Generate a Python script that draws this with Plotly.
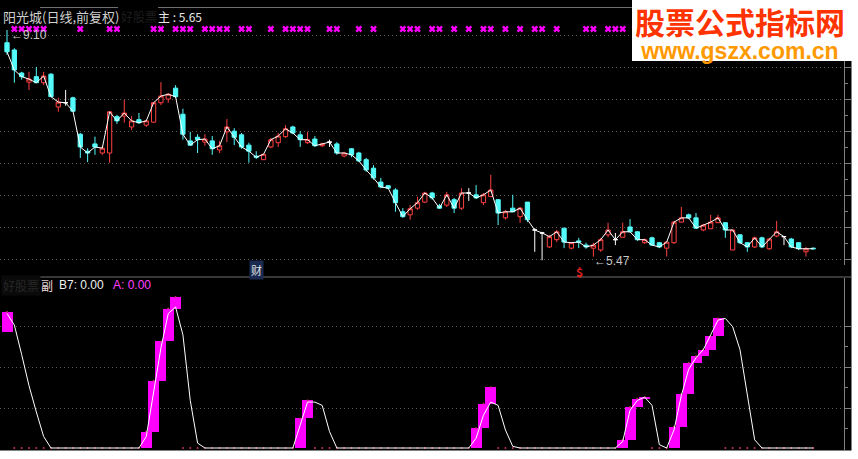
import plotly.graph_objects as go

W, H = 858, 459

# ---------------- data ----------------
opens = [
    8.89, 8.77, 8.39, 8.24, 8.33, 8.23, 8.37, 7.83, 7.90, 7.98,
    7.38, 7.10, 7.22, 7.07, 7.07, 7.67, 7.68, 7.50, 7.62, 7.53,
    7.58, 7.90, 7.96, 8.14, 7.71, 7.27, 7.33, 7.25, 7.27, 7.12,
    7.42, 7.43, 7.37, 7.20, 7.02, 6.96, 7.17, 7.24, 7.34, 7.50,
    7.37, 7.24, 7.30, 7.19, 7.25, 7.22, 7.02, 7.14, 7.07, 6.96,
    6.82, 6.59, 6.53, 6.46, 6.10, 6.05, 6.16, 6.26, 6.41, 6.20,
    6.21, 6.30, 6.16, 6.41, 6.38, 6.25, 6.35, 6.30, 6.00, 6.16,
    6.02, 6.26, 5.80, 5.75, 5.52, 5.64, 5.83, 5.50, 5.62, 5.55,
    5.50, 5.47, 5.72, 5.64, 5.68, 5.85, 5.77, 5.59, 5.67, 5.59,
    5.50, 5.59, 5.93, 6.05, 6.00, 5.80, 5.82, 5.92, 5.92, 5.47,
    5.72, 5.59, 5.52, 5.67, 5.49, 5.70, 5.69, 5.65, 5.59, 5.44, 5.50,
]
closes = [
    8.74, 8.44, 8.33, 8.29, 8.23, 8.34, 8.00, 7.91, 7.90, 7.76,
    7.17, 7.07, 7.17, 7.15, 7.75, 7.60, 7.73, 7.60, 7.57, 7.60,
    7.90, 8.01, 8.04, 8.00, 7.38, 7.20, 7.29, 7.30, 7.14, 7.19,
    7.50, 7.33, 7.17, 7.10, 7.00, 7.05, 7.29, 7.35, 7.47, 7.40,
    7.29, 7.29, 7.19, 7.22, 7.25, 7.07, 7.07, 7.04, 6.94, 6.79,
    6.66, 6.51, 6.49, 6.25, 6.02, 6.15, 6.25, 6.41, 6.33, 6.16,
    6.38, 6.16, 6.41, 6.41, 6.33, 6.38, 6.46, 6.08, 6.10, 6.10,
    6.16, 5.97, 5.80, 5.75, 5.69, 5.77, 5.60, 5.59, 5.60, 5.52,
    5.55, 5.64, 5.80, 5.64, 5.77, 5.77, 5.64, 5.64, 5.55, 5.52,
    5.60, 5.93, 6.00, 6.00, 5.83, 5.88, 5.93, 6.00, 5.80, 5.80,
    5.59, 5.52, 5.67, 5.52, 5.65, 5.77, 5.69, 5.52, 5.49, 5.49, 5.49,
]
highs = [
    9.10, 8.80, 8.41, 8.41, 8.49, 8.41, 8.39, 7.98, 8.11, 8.00,
    7.40, 7.15, 7.34, 7.19, 7.76, 7.70, 7.95, 7.68, 7.73, 7.62,
    7.91, 8.24, 8.06, 8.19, 7.80, 7.42, 7.38, 7.38, 7.35, 7.27,
    7.63, 7.48, 7.40, 7.24, 7.10, 7.05, 7.32, 7.40, 7.53, 7.52,
    7.43, 7.42, 7.35, 7.24, 7.29, 7.25, 7.09, 7.15, 7.09, 6.99,
    6.87, 6.66, 6.54, 6.49, 6.16, 6.21, 6.35, 6.43, 6.43, 6.23,
    6.43, 6.33, 6.49, 6.49, 6.54, 6.41, 6.71, 6.31, 6.13, 6.38,
    6.18, 6.26, 5.83, 5.77, 5.72, 5.80, 5.83, 5.60, 5.67, 5.59,
    5.59, 5.67, 5.92, 5.75, 5.92, 5.98, 5.78, 5.66, 5.69, 5.60,
    5.60, 5.95, 6.18, 6.07, 6.08, 5.90, 6.05, 6.05, 5.92, 5.80,
    5.73, 5.59, 5.69, 5.69, 5.67, 5.95, 5.70, 5.67, 5.60, 5.52, 5.51,
]
lows = [
    8.69, 8.23, 8.28, 8.11, 8.23, 8.19, 8.00, 7.75, 7.85, 7.75,
    6.99, 6.92, 7.04, 7.04, 6.91, 7.55, 7.57, 7.45, 7.55, 7.50,
    7.57, 7.86, 7.90, 7.98, 7.29, 7.19, 7.07, 7.19, 7.04, 7.07,
    7.25, 7.20, 7.14, 6.91, 6.97, 6.96, 7.15, 7.17, 7.32, 7.38,
    7.17, 7.22, 7.17, 7.17, 7.17, 7.04, 7.00, 7.00, 6.92, 6.76,
    6.63, 6.49, 6.48, 6.10, 6.00, 5.97, 6.13, 6.25, 6.30, 6.15,
    6.18, 6.08, 6.13, 6.28, 6.31, 6.21, 6.35, 5.88, 5.97, 6.10,
    5.92, 5.93, 5.44, 5.30, 5.50, 5.60, 5.50, 5.48, 5.50, 5.49,
    5.36, 5.44, 5.68, 5.55, 5.68, 5.77, 5.62, 5.57, 5.54, 5.50,
    5.36, 5.57, 5.93, 5.98, 5.82, 5.78, 5.82, 5.92, 5.67, 5.47,
    5.57, 5.44, 5.50, 5.50, 5.47, 5.68, 5.55, 5.50, 5.47, 5.36, 5.48,
]
# candles carrying the magenta signal marks on the top row
signal_idx = [1, 2, 3, 4, 5, 10, 14, 15, 20, 21, 23, 24, 25, 27, 28, 29, 30,
              32, 33, 36, 38, 39, 40, 41, 44, 45, 48, 50, 54, 55, 56, 58, 59,
              61, 63, 65, 66, 68, 70, 72, 73, 75, 79, 80, 82, 83, 84]

# sub-chart indicator values
A_before = 71
A = [
    83, 0, 0, 0, 0, 0, 0, 0, 0, 0,
    0, 0, 0, 0, 0, 0, 0, 0, 0, 10,
    41, 65, 85, 92, 0, 0, 0, 0, 0, 0,
    0, 0, 0, 0, 0, 0, 0, 0, 0, 0,
    18, 29, 0, 0, 0, 0, 0, 0, 0, 0,
    0, 0, 0, 0, 0, 0, 0, 0, 0, 0,
    0, 0, 0, 0, 12, 27, 37, 0, 0, 0,
    0, 0, 0, 0, 0, 0, 0, 0, 0, 0,
    0, 0, 0, 0, 5, 25, 30, 31, 0, 0,
    0, 13, 33, 52, 56, 60, 68, 79, 0, 0,
    0, 0, 0, 0, 0, 0, 0, 0, 0, 0, 0,
]
B7 = [
    82, 75, 57, 38, 22, 7, 0, 0, 0, 0,
    0, 0, 0, 0, 0, 0, 0, 0, 0, 7,
    34, 61, 82, 86, 69, 29, 3, 0, 0, 0,
    0, 0, 0, 0, 0, 0, 0, 0, 0, 0,
    14, 28, 28, 26, 10, 0, 0, 0, 0, 0,
    0, 0, 0, 0, 0, 0, 0, 0, 0, 0,
    0, 0, 0, 0, 6, 20, 28, 26, 11, 1,
    0, 0, 0, 0, 0, 0, 0, 0, 0, 0,
    0, 0, 0, 0, 4, 23, 29, 31, 26, 2,
    0, 11, 32, 48, 55, 60, 69, 78, 79, 74,
    60, 32, 5, 0, 0, 0, 0, 0, 0, 0, 0,
]
title_main = "阳光城(日线,前复权)"
main_label = "主 : 5.65"
hi_label = "←9.10"
lo_label = "←5.47"

# ---------------- geometry helpers ----------------
def px(x):
    return x / W


def py(y):
    return 1 - y / H


n = len(closes)
idx = list(range(n))
X_AXIS_PX = 844
TOP0, TOP1 = 8, 265
BOT0, BOT1 = 278, 450
x_range = [-0.955, 114.19]
y_hi, y_lo = 9.463, 5.222
b_hi, b_lo = 103.66, -1.22


def top_val(row):
    return y_lo + (y_hi - y_lo) * (TOP1 - row) / (TOP1 - TOP0)


def bot_val(row):
    return b_lo + (b_hi - b_lo) * (BOT1 - row) / (BOT1 - BOT0)


CYAN = "#54FCFC"
RED = "#FF4040"
MAG = "#FF00FF"

fig = go.Figure()


def candles(sel, color, fill):
    return go.Candlestick(
        x=sel,
        open=[opens[i] for i in sel], high=[highs[i] for i in sel],
        low=[lows[i] for i in sel], close=[closes[i] for i in sel],
        increasing=dict(line=dict(color=color, width=1), fillcolor=fill),
        decreasing=dict(line=dict(color=color, width=1), fillcolor=fill),
        whiskerwidth=0, hoverinfo="skip", xaxis="x", yaxis="y",
    )


up = [i for i in idx if closes[i] > opens[i]]
dn = [i for i in idx if closes[i] < opens[i]]
dj = [i for i in idx if closes[i] == opens[i]]
fig.add_trace(candles(up, RED, "#000000"))
fig.add_trace(candles(dn, CYAN, CYAN))
fig.add_trace(candles(dj, "#FFFFFF", "#FFFFFF"))

fig.add_trace(go.Scatter(x=idx, y=closes, mode="lines",
                         line=dict(color="#FFFFFF", width=1),
                         hoverinfo="skip", xaxis="x", yaxis="y"))

mark_y = top_val(29)
fig.add_trace(go.Scatter(x=signal_idx, y=[mark_y] * len(signal_idx), mode="markers",
                         marker=dict(symbol="x", size=6, color=MAG,
                                     line=dict(width=0)),
                         hoverinfo="skip", xaxis="x", yaxis="y"))

# sub chart: rising steps of A
rx, rbase, rh = [], [], []
for i in idx:
    prev = A[i - 1] if i > 0 else A_before
    if A[i] > prev:
        rx.append(i)
        rbase.append(prev)
        rh.append(A[i] - prev)
fig.add_trace(go.Bar(x=rx, y=rh, base=rbase, width=1.5,
                     marker=dict(color=MAG, line=dict(width=0)),
                     hoverinfo="skip", xaxis="x2", yaxis="y2"))
fig.add_trace(go.Scatter(x=idx, y=A, mode="markers",
                         marker=dict(size=2, color="#C03070"),
                         hoverinfo="skip", xaxis="x2", yaxis="y2"))
fig.add_trace(go.Scatter(x=idx, y=B7, mode="lines",
                         line=dict(color="#FFFFFF", width=1),
                         hoverinfo="skip", xaxis="x2", yaxis="y2"))

grid_rows_top = [35, 67, 99, 131, 163, 195, 227, 259]
minor_rows_top = [51, 83, 115, 147, 179, 211, 243]
grid_rows_bot = [326, 367, 408]
minor_rows_bot = [346, 387, 428]

axis_common = dict(showline=True, linecolor="#808080", linewidth=1,
                   ticks="outside", ticklen=6, tickcolor="#808080",
                   showticklabels=False, zeroline=False, side="right",
                   gridcolor="#5a5a5a", griddash="1px,3px", gridwidth=1)

fig.update_layout(
    width=W, height=H, margin=dict(l=0, r=0, t=0, b=0),
    paper_bgcolor="#000000", plot_bgcolor="#000000",
    showlegend=False, boxgap=0.42, boxgroupgap=0, bargap=0,
    xaxis=dict(domain=[0, px(X_AXIS_PX)], range=x_range, visible=False,
               rangeslider=dict(visible=False), anchor="y"),
    xaxis2=dict(domain=[0, px(X_AXIS_PX)], range=x_range, visible=False,
                anchor="y2", matches="x"),
    yaxis=dict(domain=[py(TOP1), py(TOP0)], range=[y_lo, y_hi], anchor="x",
               tickvals=[top_val(r) for r in grid_rows_top],
               minor=dict(tickvals=[top_val(r) for r in minor_rows_top],
                          ticks="outside", ticklen=3, tickcolor="#808080",
                          showgrid=False),
               **axis_common),
    yaxis2=dict(domain=[py(BOT1), py(BOT0)], range=[b_lo, b_hi], anchor="x2",
                tickvals=[bot_val(r) for r in grid_rows_bot],
                minor=dict(tickvals=[bot_val(r) for r in minor_rows_bot],
                           ticks="outside", ticklen=3, tickcolor="#808080",
                           showgrid=False),
                **axis_common),
)

shapes = [
    # panel top borders
    dict(type="line", xref="paper", yref="paper", x0=px(40), x1=px(118),
         y0=py(7.5), y1=py(7.5), line=dict(color="#707070", width=1)),
    dict(type="line", xref="paper", yref="paper", x0=px(158), x1=px(632),
         y0=py(7.5), y1=py(7.5), line=dict(color="#707070", width=1)),
    dict(type="line", xref="paper", yref="paper", x0=px(40), x1=px(851),
         y0=py(277), y1=py(277), line=dict(color="#707070", width=1)),
    # white margins of the screenshot
    dict(type="rect", xref="paper", yref="paper", x0=px(851.5), x1=1,
         y0=0, y1=1, line=dict(width=0), fillcolor="#FFFFFF", layer="above"),
    dict(type="rect", xref="paper", yref="paper", x0=0, x1=1,
         y0=0, y1=py(450.5), line=dict(width=0), fillcolor="#FFFFFF", layer="above"),
    # watermark box
    dict(type="rect", xref="paper", yref="paper", x0=px(632), x1=1,
         y0=py(61), y1=1, line=dict(width=0), fillcolor="#FFFFFF", layer="above"),
]
fig.update_layout(shapes=shapes)

CJK = "Noto Sans CJK SC"
ann = []


def txt(text, x, y, size, color, anchor="left", family=CJK, **kw):
    ann.append(dict(text=text, x=px(x), y=py(y), xref="paper", yref="paper",
                    xanchor=anchor, yanchor="middle", showarrow=False,
                    font=dict(family=family, size=size, color=color), **kw))


txt(title_main, 1, 17, 13, "#D0D0D0")
txt("好股票", 119, 17, 12, "#1E1E1E")
txt(main_label, 156, 17, 12, "#E8E8E8")
txt("好股票", 1, 285, 12, "#262626", bgcolor="#0A0A0A")
txt("副", 39, 285, 12, "#EAD8D8")
txt("B7: 0.00", 57, 285, 12, "#F0F0F0", family="Liberation Sans")
txt("A: 0.00", 111, 285, 12, "#FF40FF", family="Liberation Sans")
# watermark as one two-line text
txt("<span style='font-size:30px;color:#FF3300'><b>股票公式指标网</b></span><br>"
    "<span style='font-size:23px;color:#FF9900;font-family:Liberation Sans'>"
    "<b>www.gszx.com.cn</b></span>",
    740, 31, 19, "#FF3300", anchor="center")
txt("财", 256, 270, 11, "#E0E0E0", anchor="center", bgcolor="#1A2A50")
txt("<b>$</b>", 579, 271, 12, "#E02020", anchor="center")

# high / low price tags, anchored on the candles themselves
imax = max(idx, key=lambda i: highs[i])
ann.append(dict(text=hi_label, x=imax, y=highs[imax], xref="x", yref="y",
                xanchor="left", yanchor="middle", xshift=2, yshift=-5,
                showarrow=False, font=dict(family="Liberation Sans", size=12,
                                           color="#C8C8C8")))
ann.append(dict(text=lo_label, x=80, y=lows[80], xref="x", yref="y",
                xanchor="left", yanchor="middle", xshift=-1, yshift=-4,
                showarrow=False, font=dict(family="Liberation Sans", size=12,
                                           color="#C8C8C8")))
fig.update_layout(annotations=ann)

fig.write_html("out.html", config={"displayModeBar": False},
               post_script="document.body.style.margin='0px';")
